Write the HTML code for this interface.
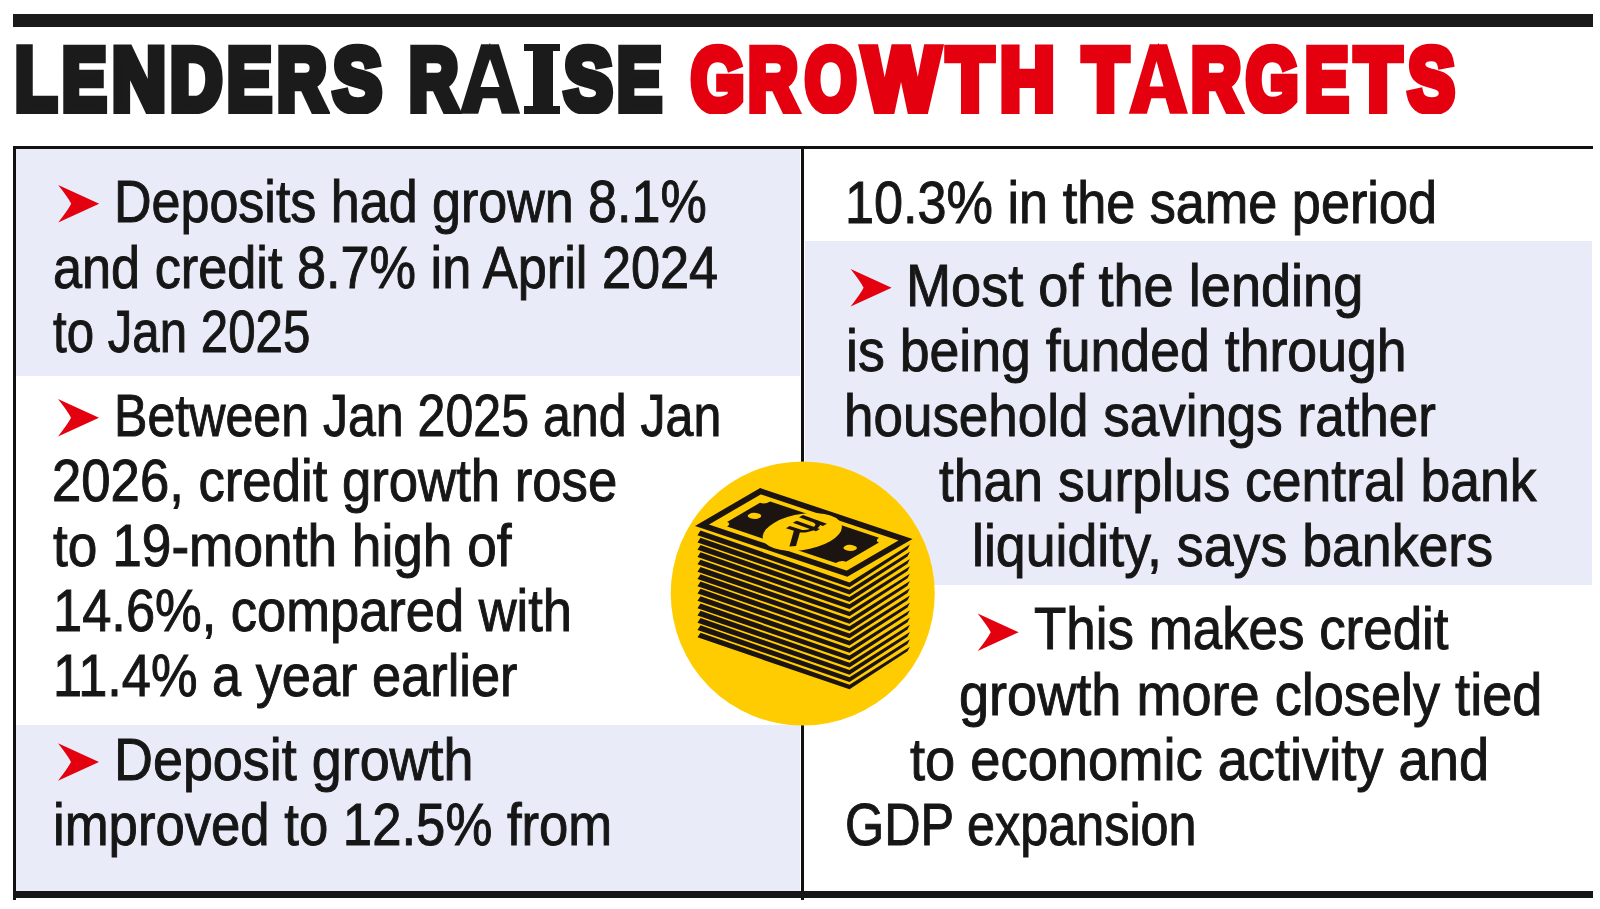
<!DOCTYPE html>
<html><head><meta charset="utf-8"><style>
html,body{margin:0;padding:0;background:#fff}
#p{position:relative;width:1600px;height:909px;overflow:hidden;background:#fff}
.r{position:absolute}
.t{position:absolute;font-family:"Liberation Sans",sans-serif;font-size:60px;line-height:60px;white-space:pre;color:#161616;-webkit-text-stroke:1.0px #161616;transform-origin:0 0}
.h{position:absolute;font-family:"Liberation Sans",sans-serif;font-weight:bold;font-size:88.5px;line-height:88.5px;white-space:pre;-webkit-text-stroke-width:8.5px;transform-origin:0 0}
</style></head><body><div id="p">
<div class="r" style="left:13px;top:14px;width:1580px;height:13px;background:#1a1a1a"></div>
<div id="tt" style="position:absolute;left:0;top:43px;width:1600px;height:71px;overflow:hidden"><div style="position:absolute;left:0;top:-43px;width:1600px;height:200px"><div class="h" style="left:14.70px;top:35.50px;color:#1b1b1b;-webkit-text-stroke-color:#1b1b1b;transform:scaleX(0.7750)">L</div>
<div class="h" style="left:62.49px;top:35.50px;color:#1b1b1b;-webkit-text-stroke-color:#1b1b1b;transform:scaleX(0.7543)">E</div>
<div class="h" style="left:112.06px;top:35.50px;color:#1b1b1b;-webkit-text-stroke-color:#1b1b1b;transform:scaleX(0.8442)">N</div>
<div class="h" style="left:170.26px;top:35.50px;color:#1b1b1b;-webkit-text-stroke-color:#1b1b1b;transform:scaleX(0.8177)">D</div>
<div class="h" style="left:227.48px;top:35.50px;color:#1b1b1b;-webkit-text-stroke-color:#1b1b1b;transform:scaleX(0.7586)">E</div>
<div class="h" style="left:277.05px;top:35.50px;color:#1b1b1b;-webkit-text-stroke-color:#1b1b1b;transform:scaleX(0.7761)">R</div>
<div class="h" style="left:333.05px;top:35.50px;color:#1b1b1b;-webkit-text-stroke-color:#1b1b1b;transform:scaleX(0.8258)">S</div>
<div class="h" style="left:408.86px;top:35.50px;color:#1b1b1b;-webkit-text-stroke-color:#1b1b1b;transform:scaleX(0.7701)">R</div>
<div class="h" style="left:463.38px;top:35.50px;color:#1b1b1b;-webkit-text-stroke-color:#1b1b1b;transform:scaleX(0.8451)">A</div>
<div class="h" style="left:563.65px;top:35.50px;color:#1b1b1b;-webkit-text-stroke-color:#1b1b1b;transform:scaleX(0.8226)">S</div>
<div class="h" style="left:617.48px;top:35.50px;color:#1b1b1b;-webkit-text-stroke-color:#1b1b1b;transform:scaleX(0.7586)">E</div>
<div class="h" style="left:691.47px;top:35.50px;color:#e5000f;-webkit-text-stroke-color:#e5000f;transform:scaleX(0.7739)">G</div>
<div class="h" style="left:748.44px;top:35.50px;color:#e5000f;-webkit-text-stroke-color:#e5000f;transform:scaleX(0.7806)">R</div>
<div class="h" style="left:805.45px;top:35.50px;color:#e5000f;-webkit-text-stroke-color:#e5000f;transform:scaleX(0.7471)">O</div>
<div class="h" style="left:862.56px;top:35.50px;color:#e5000f;-webkit-text-stroke-color:#e5000f;transform:scaleX(0.9117)">W</div>
<div class="h" style="left:947.36px;top:35.50px;color:#e5000f;-webkit-text-stroke-color:#e5000f;transform:scaleX(0.8533)">T</div>
<div class="h" style="left:1000.09px;top:35.50px;color:#e5000f;-webkit-text-stroke-color:#e5000f;transform:scaleX(0.8533)">H</div>
<div class="h" style="left:1082.50px;top:35.50px;color:#e5000f;-webkit-text-stroke-color:#e5000f;transform:scaleX(0.8333)">T</div>
<div class="h" style="left:1132.06px;top:35.50px;color:#e5000f;-webkit-text-stroke-color:#e5000f;transform:scaleX(0.8275)">A</div>
<div class="h" style="left:1190.93px;top:35.50px;color:#e5000f;-webkit-text-stroke-color:#e5000f;transform:scaleX(0.7836)">R</div>
<div class="h" style="left:1245.76px;top:35.50px;color:#e5000f;-webkit-text-stroke-color:#e5000f;transform:scaleX(0.7609)">G</div>
<div class="h" style="left:1304.53px;top:35.50px;color:#e5000f;-webkit-text-stroke-color:#e5000f;transform:scaleX(0.7371)">E</div>
<div class="h" style="left:1355.06px;top:35.50px;color:#e5000f;-webkit-text-stroke-color:#e5000f;transform:scaleX(0.8542)">T</div>
<div class="h" style="left:1407.58px;top:35.50px;color:#e5000f;-webkit-text-stroke-color:#e5000f;transform:scaleX(0.7903)">S</div></div></div>
<svg width="1600" height="130" style="position:absolute;left:0;top:0"><polygon points="490,59 480.5,87 499.5,87" fill="#fff"/><polygon points="1156.5,61 1149.5,86.5 1163.5,86.5" fill="#fff"/></svg>
<div class="r" style="left:524px;top:43.5px;width:36px;height:7.5px;background:#1b1b1b"></div>
<div class="r" style="left:533px;top:43.5px;width:20px;height:70px;background:#1b1b1b"></div>
<div class="r" style="left:524px;top:106px;width:36px;height:7.5px;background:#1b1b1b"></div>
<div class="r" style="left:16px;top:149px;width:784px;height:227px;background:#e9ecf8"></div>
<div class="r" style="left:16px;top:725px;width:784px;height:166px;background:#e9ecf8"></div>
<div class="r" style="left:805px;top:241px;width:787px;height:344px;background:#e9ecf8"></div>
<div class="r" style="left:13px;top:146px;width:1580px;height:3px;background:#111"></div>
<div class="r" style="left:13px;top:146px;width:3px;height:754px;background:#111"></div>
<div class="r" style="left:801px;top:146px;width:3px;height:754px;background:#111"></div>
<div class="r" style="left:13px;top:891px;width:1580px;height:6.5px;background:#161616"></div>
<svg width="1600" height="909" viewBox="0 0 1600 909" style="position:absolute;left:0;top:0">
<circle cx="802.75" cy="593.55" r="132" fill="#fecc00"/>
<path d="M700.5,530.45 L849.5,582.45 L909.9000000000001,544.45 L907.5,549.15 L849.5,587.15 L697.5,535.15Z M700.5,537.75 L849.5,589.75 L909.9000000000001,551.75 L907.5,556.45 L849.5,594.45 L697.5,542.45Z M700.5,545.05 L849.5,597.05 L909.9000000000001,559.05 L907.5,563.75 L849.5,601.75 L697.5,549.75Z M700.5,552.35 L849.5,604.35 L909.9000000000001,566.35 L907.5,571.05 L849.5,609.05 L697.5,557.05Z M700.5,559.65 L849.5,611.65 L909.9000000000001,573.65 L907.5,578.35 L849.5,616.35 L697.5,564.35Z M700.5,566.95 L849.5,618.95 L909.9000000000001,580.95 L907.5,585.65 L849.5,623.65 L697.5,571.65Z M700.5,574.25 L849.5,626.25 L909.9000000000001,588.25 L907.5,592.95 L849.5,630.95 L697.5,578.95Z M700.5,581.55 L849.5,633.55 L909.9000000000001,595.55 L907.5,600.25 L849.5,638.25 L697.5,586.25Z M700.5,588.85 L849.5,640.85 L909.9000000000001,602.85 L907.5,607.55 L849.5,645.55 L697.5,593.55Z M700.5,596.15 L849.5,648.15 L909.9000000000001,610.15 L907.5,614.85 L849.5,652.85 L697.5,600.85Z M700.5,603.45 L849.5,655.45 L909.9000000000001,617.45 L907.5,622.15 L849.5,660.15 L697.5,608.15Z M700.5,610.75 L849.5,662.75 L909.9000000000001,624.75 L907.5,629.45 L849.5,667.45 L697.5,615.45Z M700.5,618.05 L849.5,670.05 L909.9000000000001,632.05 L907.5,636.75 L849.5,674.75 L697.5,622.75Z M700.5,625.35 L849.5,677.35 L909.9000000000001,639.35 L907.5,644.05 L849.5,682.05 L697.5,630.05Z M700.5,632.65 L849.5,684.65 L909.9000000000001,646.65 L907.5,651.35 L849.5,689.35 L697.5,637.35Z" fill="#1c1410"/>
<g transform="matrix(0.72500,0.24250,-0.73125,0.42500,760.500,491.200)">
<polygon points="0,0 200,0 200,80 0,80" fill="none" stroke="#1c1410" stroke-width="5.8" vector-effect="non-scaling-stroke" stroke-linejoin="miter" stroke-miterlimit="10"/>
<path d="M24,10.5 L174,10.5 A7,7 0 0 0 181,17.5 L181,62.5 A7,7 0 0 0 174,69.5 L24,69.5 A7,7 0 0 0 17,62.5 L17,17.5 A7,7 0 0 0 24,10.5 Z" fill="#1c1410"/>
<circle cx="98" cy="40" r="38.5" fill="#fecc00"/>
<ellipse cx="32" cy="40" rx="7.5" ry="5.5" fill="#fecc00"/>
<ellipse cx="164" cy="40" rx="7.5" ry="5.5" fill="#fecc00"/>
<g fill="none" stroke="#1c1410" stroke-width="5.2" stroke-linejoin="round">
<path d="M73,17 L107,18"/>
<path d="M76,28.5 L109,29.5"/>
<path d="M78,40 L94,39.5 C106,38.5 106,18.5 94,18"/>
<path d="M91,40 L111,66" stroke-width="6.5"/>
</g>
</g>
</svg>
<svg width="1600" height="909" style="position:absolute;left:0;top:0"><path d="M58.2,185.1 L99.2,203.8 L58.2,222.5 Q68.2,209.8 71.2,203.8 Q68.2,197.8 58.2,185.1Z" fill="#e3000f"/><path d="M58.0,399.1 L99.0,417.8 L58.0,436.5 Q68.0,423.8 71.0,417.8 Q68.0,411.8 58.0,399.1Z" fill="#e3000f"/><path d="M58.0,743.3 L99.0,762.0 L58.0,780.7 Q68.0,768.0 71.0,762.0 Q68.0,756.0 58.0,743.3Z" fill="#e3000f"/><path d="M850.6,269.1 L891.6,287.8 L850.6,306.5 Q860.6,293.8 863.6,287.8 Q860.6,281.8 850.6,269.1Z" fill="#e3000f"/><path d="M977.7,613.6 L1018.7,632.3 L977.7,651.0 Q987.7,638.3 990.7,632.3 Q987.7,626.3 977.7,613.6Z" fill="#e3000f"/></svg>
<div class="t" style="left:114.03px;top:172.30px;transform:scaleX(0.8668)">Deposits had grown 8.1%</div>
<div class="t" style="left:52.86px;top:237.50px;transform:scaleX(0.8708)">and credit 8.7% in April 2024</div>
<div class="t" style="left:53.00px;top:302.20px;transform:scaleX(0.8205)">to Jan 2025</div>
<div class="t" style="left:114.36px;top:386.40px;transform:scaleX(0.8351)">Between Jan 2025 and Jan</div>
<div class="t" style="left:52.14px;top:451.00px;transform:scaleX(0.8781)">2026, credit growth rose</div>
<div class="t" style="left:53.00px;top:516.00px;transform:scaleX(0.8871)">to 19-month high of</div>
<div class="t" style="left:53.00px;top:580.80px;transform:scaleX(0.8742)">14.6%, compared with</div>
<div class="t" style="left:53.01px;top:645.80px;transform:scaleX(0.8722)">11.4% a year earlier</div>
<div class="t" style="left:114.11px;top:730.30px;transform:scaleX(0.8983)">Deposit growth</div>
<div class="t" style="left:53.37px;top:795.00px;transform:scaleX(0.8780)">improved to 12.5% from</div>
<div class="t" style="left:845.02px;top:172.50px;transform:scaleX(0.8700)">10.3% in the same period</div>
<div class="t" style="left:906.39px;top:256.40px;transform:scaleX(0.9020)">Most of the lending</div>
<div class="t" style="left:846.12px;top:321.00px;transform:scaleX(0.8940)">is being funded through</div>
<div class="t" style="left:844.47px;top:385.80px;transform:scaleX(0.8829)">household savings rather</div>
<div class="t" style="left:938.60px;top:450.80px;transform:scaleX(0.8911)">than surplus central bank</div>
<div class="t" style="left:972.22px;top:515.80px;transform:scaleX(0.8946)">liquidity, says bankers</div>
<div class="t" style="left:1033.62px;top:599.20px;transform:scaleX(0.8817)">This makes credit</div>
<div class="t" style="left:959.20px;top:664.80px;transform:scaleX(0.9017)">growth more closely tied</div>
<div class="t" style="left:910.30px;top:729.80px;transform:scaleX(0.9044)">to economic activity and</div>
<div class="t" style="left:845.08px;top:794.60px;transform:scaleX(0.8387)">GDP expansion</div>
</div></body></html>
